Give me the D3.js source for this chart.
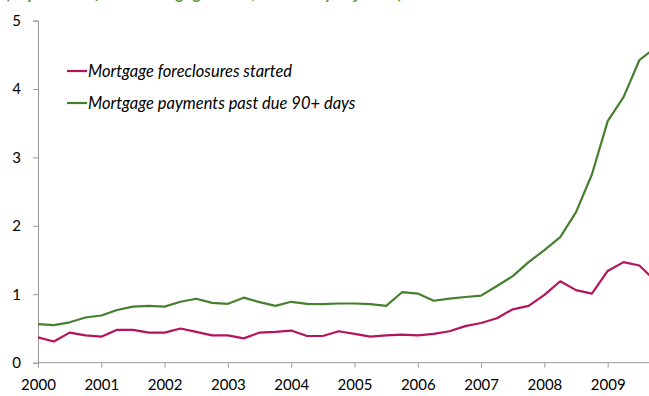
<!DOCTYPE html>
<html>
<head>
<meta charset="utf-8">
<script src="https://cdn.jsdelivr.net/npm/d3@7"></script>
<style>
  html, body { margin: 0; padding: 0; background: #fff; }
  svg { display: block; }
</style>
</head>
<body>
<svg id="chart" width="649" height="396"></svg>
<script>
// Quarterly observations, 2000Q1 onward (percent of total mortgage loans)
const quarters = d3.range(40).map(i => 2000 + i * 0.25);
const foreclosuresStarted = [
  0.37, 0.31, 0.44, 0.40, 0.38, 0.48, 0.48, 0.44,
  0.44, 0.50, 0.45, 0.40, 0.40, 0.355, 0.44, 0.45,
  0.47, 0.39, 0.39, 0.46, 0.42, 0.38, 0.40, 0.41,
  0.40, 0.42, 0.46, 0.535, 0.58, 0.65, 0.78, 0.83,
  0.99, 1.19, 1.06, 1.01, 1.34, 1.47, 1.42, 1.20
];
const pastDue90 = [
  0.565, 0.55, 0.59, 0.66, 0.69, 0.77, 0.82, 0.83,
  0.82, 0.89, 0.935, 0.875, 0.86, 0.95, 0.885, 0.83,
  0.89, 0.86, 0.855, 0.865, 0.865, 0.855, 0.83, 1.03,
  1.01, 0.905, 0.935, 0.96, 0.98, 1.12, 1.265, 1.47,
  1.645, 1.835, 2.20, 2.75, 3.53, 3.88, 4.42, 4.60
];
const yearTicks = d3.range(2000, 2010);
const valueTicks = [0, 1, 2, 3, 4, 5];
const seriesNames = ["Mortgage foreclosures started", "Mortgage payments past due 90+ days"];
const seriesColors = ["#B5135C", "#45802F"];
const subtitle = "(In percent of total mortgage loans, seasonally adjusted)";

const svg = d3.select("#chart");
const font = "Lato, 'Open Sans', sans-serif";

const x = d3.scaleLinear().domain([2000, 2009]).range([38, 607.7]);
const y = d3.scaleLinear().domain([0, 5]).range([362.7, 20.5]);

// Subtitle, running off the top edge
svg.append("text")
  .attr("x", 6).attr("y", -1)
  .attr("font-family", font)
  .attr("font-size", 17)
  .attr("font-weight", "bold")
  .attr("font-style", "italic")
  .attr("fill", "#5E9A3C")
  .text(subtitle);

// Axes
const axisColor = "#9a9a9a";
const xAxis = d3.axisBottom(x).tickValues(yearTicks).tickFormat(d3.format("d")).tickSizeOuter(0).tickSize(5).tickPadding(12);
const gx = svg.append("g").attr("transform", `translate(0,${y(0)})`).call(xAxis);
gx.select(".domain").attr("stroke", axisColor).attr("d", `M${x(2000)},0H649`);
gx.selectAll(".tick line").attr("stroke", axisColor);
gx.selectAll(".tick text").attr("font-family", font).attr("font-size", 15).attr("fill", "#000");

const yAxis = d3.axisLeft(y).tickValues(valueTicks).tickFormat(d3.format("d")).tickSizeOuter(0).tickSize(5).tickPadding(12);
const gy = svg.append("g").attr("transform", `translate(${x(2000)},0)`).call(yAxis);
gy.select(".domain").attr("stroke", axisColor);
gy.selectAll(".tick line").attr("stroke", axisColor);
gy.selectAll(".tick text").attr("font-family", font).attr("font-size", 15).attr("fill", "#000");

// Series lines
const line = d3.line().x(d => x(d[0])).y(d => y(d[1]));
[foreclosuresStarted, pastDue90].forEach((vals, i) => {
  svg.append("path")
    .datum(quarters.map((q, k) => [q, vals[k]]))
    .attr("fill", "none")
    .attr("stroke", seriesColors[i])
    .attr("stroke-width", 2.2)
    .attr("stroke-linejoin", "round")
    .attr("d", line);
});

// Legend
const legend = svg.append("g").attr("transform", "translate(67,71)");
seriesNames.forEach((name, i) => {
  const g = legend.append("g").attr("transform", `translate(0,${i * 32})`);
  g.append("line").attr("x1", 0).attr("x2", 20).attr("y1", 0).attr("y2", 0)
    .attr("stroke", seriesColors[i]).attr("stroke-width", 2.2);
  g.append("text").attr("x", 21).attr("y", 5.5)
    .attr("font-family", font).attr("font-size", 16.5).attr("font-style", "italic")
    .attr("fill", "#000").text(name);
});
</script>
</body>
</html>
